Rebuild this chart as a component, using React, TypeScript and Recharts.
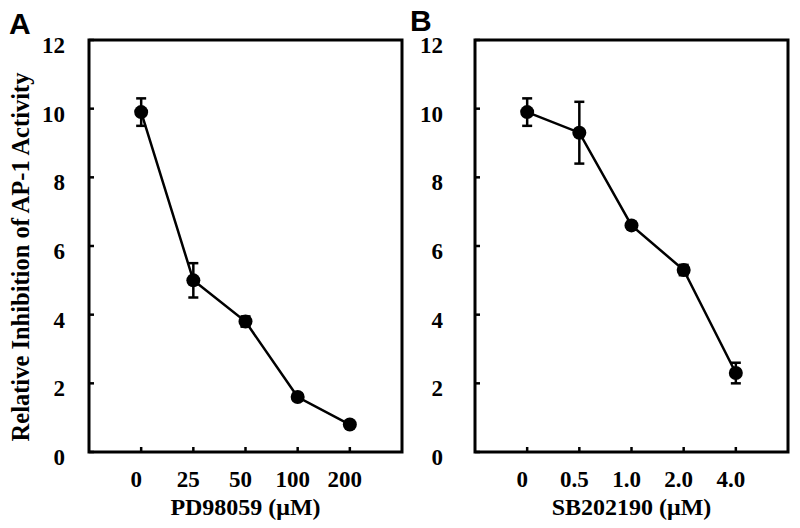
import React from "react";
import { LineChart, Line, XAxis, YAxis, ErrorBar, ReferenceArea } from "recharts";

// panel A: PD98059
const concA = ["0", "25", "50", "100", "200"];
const valuesA = [9.9, 5.0, 3.8, 1.6, 0.8];
const errorsA = [0.4, 0.5, 0.15, 0.1, 0.08];

// panel B: SB202190
const concB = ["0", "0.5", "1.0", "2.0", "4.0"];
const valuesB = [9.9, 9.3, 6.6, 5.3, 2.3];
const errorsB = [0.4, 0.9, 0.1, 0.15, 0.3];

const yTicks = [0, 2, 4, 6, 8, 10, 12];
const xTicks = [0, 1, 2, 3, 4];

const serif = '"Liberation Serif", "Times New Roman", serif';
const sans = '"Liberation Sans", Arial, sans-serif';

const toRows = (vals: number[], errs: number[]) => vals.map((v, i) => ({ x: i, value: v, err: errs[i] }));

interface IPanelProps {
	labels: string[];
	values: number[];
	errors: number[];
	title: string;
	left: number;
	width: number;
	marginLeft: number;
	marginRight: number;
	yLabelGap: number;
	showYTitle?: boolean;
}

const Panel = ({ labels, values, errors, title, left, width, marginLeft, marginRight, yLabelGap, showYTitle }: IPanelProps) => {
	const data = toRows(values, errors);

	const XTick = (p: any) => {
		const { x, y, payload } = p;
		return (
			<g>
				<line x1={x} y1={y} x2={x} y2={y - 5} stroke="#000" strokeWidth={2.5} />
				<text x={x - 5} y={y + 35} textAnchor="middle" fontFamily={serif} fontWeight="bold" fontSize={23} fill="#000">
					{labels[payload.value]}
				</text>
			</g>
		);
	};

	const YTick = (p: any) => {
		const { x, y, payload } = p;
		return (
			<g>
				<line x1={x} y1={y} x2={x + 5} y2={y} stroke="#000" strokeWidth={2.5} />
				<text x={x - yLabelGap} y={y + 13} textAnchor="end" fontFamily={serif} fontWeight="bold" fontSize={23} fill="#000">
					{payload.value}
				</text>
			</g>
		);
	};

	const XTitle = (p: any) => {
		const vb = p.viewBox;
		return (
			<text x={vb.x + vb.width / 2} y={vb.y + 63} textAnchor="middle" fontFamily={serif} fontWeight="bold" fontSize={24} fill="#000">
				{title}
			</text>
		);
	};

	const YTitle = () => (
		<text x={20} y={257} transform="rotate(-90 20 257)" textAnchor="middle" dominantBaseline="central" fontFamily={serif} fontWeight="bold" fontSize={24.5} fill="#000">
			Relative Inhibition of AP-1 Activity
		</text>
	);

	return (
		<div style={{ position: "absolute", left, top: 0 }}>
			<LineChart width={width} height={528} data={data} margin={{ top: 40, right: marginRight, bottom: 6, left: marginLeft }}>
				<XAxis
					type="number"
					dataKey="x"
					domain={[-1, 5]}
					ticks={xTicks}
					axisLine={false}
					tickLine={false}
					tickSize={0}
					tickMargin={0}
					height={70}
					tick={XTick}
					label={{ content: XTitle }}
				/>
				<YAxis
					type="number"
					domain={[0, 12]}
					ticks={yTicks}
					axisLine={false}
					tickLine={false}
					tickSize={0}
					tickMargin={0}
					width={60}
					tick={YTick}
					label={showYTitle ? { content: YTitle } : undefined}
				/>
				<ReferenceArea x1={-1} x2={5} y1={0} y2={12} fill="none" stroke="#000" strokeWidth={3} />
				<Line
					type="linear"
					dataKey="value"
					stroke="#000"
					strokeWidth={2.5}
					dot={{ r: 7, fill: "#000", stroke: "#000", strokeWidth: 0 }}
					activeDot={false}
					isAnimationActive={false}
				>
					<ErrorBar dataKey="err" width={5} stroke="#000" strokeWidth={2.5} direction="y" />
				</Line>
			</LineChart>
		</div>
	);
};

export default function App() {
	return (
		<div style={{ position: "absolute", left: 0, top: 0, width: 800, height: 528, background: "#fff", overflow: "hidden" }}>
			<Panel
				labels={concA}
				values={valuesA}
				errors={errorsA}
				title="PD98059 (μM)"
				left={0}
				width={420}
				marginLeft={29}
				marginRight={18}
				yLabelGap={24}
				showYTitle
			/>
			<Panel
				labels={concB}
				values={valuesB}
				errors={errorsB}
				title="SB202190 (μM)"
				left={410}
				width={390}
				marginLeft={5}
				marginRight={12}
				yLabelGap={32}
			/>
			<div style={{ position: "absolute", left: 9, top: 9, fontFamily: sans, fontWeight: "bold", fontSize: 30, lineHeight: "30px" }}>A</div>
			<div style={{ position: "absolute", left: 410, top: 6, fontFamily: sans, fontWeight: "bold", fontSize: 30, lineHeight: "30px" }}>B</div>
		</div>
	);
}
